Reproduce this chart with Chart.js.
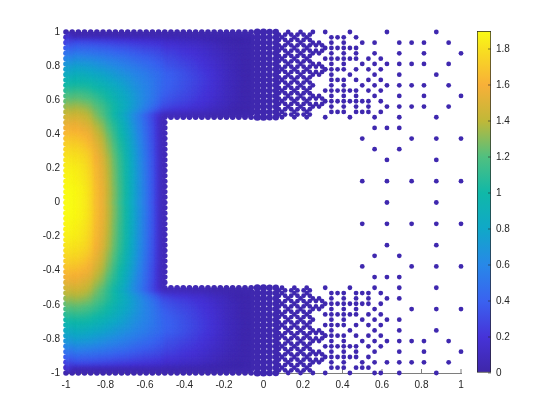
<!DOCTYPE html>
<html>
<head>
<meta charset="utf-8">
<script src="https://cdn.jsdelivr.net/npm/chart.js@4"></script>
<style>
  html, body { margin: 0; background: #fff; }
  #main { position: absolute; left: 0; top: 0; }
  #bar { position: absolute; left: 460px; top: 0; }
</style>
</head>
<body>
<canvas id="main" width="560" height="420"></canvas>
<canvas id="bar" width="100" height="420"></canvas>
<script>
// colour bar levels and colours
const barLevels = [0, 0.2, 0.4, 0.6, 0.8, 1.0, 1.2, 1.4, 1.6, 1.8, 1.9];
const barColors = ['#3e26a8', '#4633d8', '#3a62f0', '#2888e8', '#10a8c8', '#10b8a8', '#50c080', '#c0b838', '#f8b038', '#f8e020', '#f9fb15'];
const barTicks = [0, 0.2, 0.4, 0.6, 0.8, 1, 1.2, 1.4, 1.6, 1.8];
const axisTicks = [-1, -0.8, -0.6, -0.4, -0.2, 0, 0.2, 0.4, 0.6, 0.8, 1];

// values on the solid part, rows run y = 32/32 down to 0, columns x = -32/32 to -16/32
const leftCols = [-32, -31, -30, -29, -28, -27, -26, -25, -24, -23, -22, -21, -20, -19, -18, -17, -16];
const leftRows = [32, 31, 30, 29, 28, 27, 26, 25, 24, 23, 22, 21, 20, 19, 18, 17, 16, 15, 14, 13, 12, 11, 10, 9, 8, 7, 6, 5, 4, 3, 2, 1, 0];
const leftValues = [
  [.03,.03,.03,.03,.03,.03,.03,.03,.03,.03,.03,.03,.03,.03,.03,.03,.03],
  [.14,.14,.14,.14,.14,.13,.13,.13,.12,.12,.12,.11,.11,.10,.10,.10,.09],
  [.27,.27,.27,.27,.26,.25,.25,.24,.23,.22,.21,.20,.19,.18,.17,.16,.15],
  [.38,.38,.38,.37,.37,.36,.35,.34,.32,.31,.30,.28,.27,.25,.24,.23,.21],
  [.48,.48,.48,.47,.47,.45,.44,.43,.41,.39,.38,.36,.34,.32,.31,.29,.27],
  [.58,.58,.58,.57,.56,.54,.53,.51,.49,.47,.45,.42,.40,.38,.36,.33,.31],
  [.68,.68,.68,.67,.66,.64,.62,.59,.57,.54,.52,.49,.46,.43,.41,.38,.35],
  [.76,.76,.76,.75,.74,.71,.69,.66,.63,.60,.57,.54,.51,.48,.44,.41,.38],
  [.84,.84,.84,.83,.81,.79,.76,.73,.70,.66,.63,.59,.56,.53,.49,.46,.42],
  [.92,.92,.92,.91,.89,.86,.83,.79,.75,.71,.68,.63,.59,.55,.51,.47,.43],
  [1.0,1.0,.99,.98,.97,.93,.90,.85,.81,.76,.72,.66,.62,.57,.53,.48,.43],
  [1.08,1.08,1.07,1.06,1.04,.99,.96,.91,.86,.80,.75,.69,.64,.59,.53,.48,.42],
  [1.17,1.17,1.16,1.15,1.12,1.07,1.03,.97,.91,.85,.79,.72,.65,.59,.53,.47,.40],
  [1.24,1.24,1.23,1.21,1.19,1.13,1.08,1.01,.94,.87,.81,.73,.66,.59,.52,.45,.37],
  [1.32,1.32,1.31,1.29,1.26,1.19,1.14,1.06,.98,.90,.83,.74,.66,.58,.50,.42,.33],
  [1.39,1.39,1.38,1.36,1.32,1.24,1.18,1.09,1.0,.91,.82,.72,.63,.54,.44,.35,.25],
  [1.46,1.46,1.45,1.42,1.38,1.28,1.21,1.10,.99,.88,.77,.65,.54,.42,.31,.20,.08],
  [1.52,1.52,1.51,1.48,1.43,1.33,1.26,1.14,1.03,.91,.80,.66,.55,.43,.32,.20,.07],
  [1.58,1.58,1.56,1.53,1.49,1.38,1.31,1.19,1.07,.95,.83,.69,.57,.45,.33,.21,.07],
  [1.63,1.63,1.61,1.58,1.54,1.43,1.35,1.22,1.10,.97,.85,.71,.58,.46,.34,.21,.07],
  [1.68,1.68,1.66,1.63,1.58,1.47,1.39,1.26,1.13,1.0,.88,.73,.60,.47,.34,.21,.07],
  [1.72,1.72,1.70,1.67,1.62,1.51,1.42,1.29,1.16,1.03,.90,.75,.61,.48,.35,.22,.07],
  [1.76,1.76,1.74,1.71,1.66,1.54,1.46,1.32,1.19,1.05,.92,.76,.63,.49,.36,.22,.07],
  [1.79,1.79,1.77,1.74,1.69,1.57,1.48,1.34,1.21,1.07,.93,.78,.64,.50,.36,.22,.07],
  [1.82,1.82,1.80,1.77,1.72,1.59,1.51,1.37,1.23,1.09,.95,.79,.65,.51,.37,.23,.07],
  [1.84,1.84,1.82,1.79,1.73,1.61,1.52,1.38,1.24,1.10,.96,.80,.65,.51,.37,.23,.07],
  [1.86,1.86,1.84,1.81,1.75,1.63,1.54,1.39,1.25,1.11,.97,.80,.66,.52,.37,.23,.07],
  [1.87,1.87,1.85,1.82,1.76,1.64,1.55,1.40,1.26,1.11,.97,.81,.66,.52,.38,.23,.07],
  [1.88,1.88,1.86,1.83,1.77,1.64,1.55,1.41,1.26,1.12,.98,.81,.67,.52,.38,.23,.07],
  [1.89,1.89,1.87,1.84,1.78,1.65,1.56,1.42,1.27,1.13,.98,.82,.67,.52,.38,.23,.07],
  [1.90,1.90,1.88,1.85,1.79,1.66,1.57,1.42,1.28,1.13,.99,.82,.67,.53,.38,.23,.07],
  [1.90,1.90,1.88,1.85,1.79,1.66,1.57,1.42,1.28,1.13,.99,.82,.67,.53,.38,.23,.07],
  [1.90,1.90,1.88,1.85,1.79,1.66,1.57,1.42,1.28,1.13,.99,.82,.67,.53,.38,.23,.07]
];

// the arm above and below the gap, same rows y = 32/32 to 16/32, x = -15/32 to -4/32
const armCols = [-15, -14, -13, -12, -11, -10, -9, -8, -7, -6, -5, -4];
const armValues = [
  [.03,.03,.03,.03,.03,.03,.03,.03,.03,.03,.03,.03],
  [.08,.08,.07,.06,.06,.05,.05,.04,.03,.03,.03,.03],
  [.14,.13,.12,.11,.10,.09,.08,.06,.05,.04,.03,.03],
  [.19,.18,.16,.15,.14,.12,.11,.09,.07,.05,.04,.03],
  [.25,.23,.21,.19,.18,.16,.14,.11,.09,.07,.05,.04],
  [.29,.26,.24,.22,.20,.18,.16,.13,.11,.08,.06,.04],
  [.32,.30,.27,.25,.23,.20,.18,.15,.12,.09,.07,.05],
  [.35,.32,.30,.27,.25,.22,.19,.16,.13,.10,.07,.05],
  [.39,.36,.33,.30,.27,.24,.21,.18,.14,.11,.08,.05],
  [.40,.37,.34,.31,.28,.25,.22,.18,.15,.11,.08,.06],
  [.40,.37,.34,.31,.28,.25,.22,.18,.15,.11,.08,.06],
  [.39,.36,.33,.30,.27,.24,.21,.18,.14,.11,.08,.05],
  [.37,.34,.31,.29,.26,.23,.20,.17,.14,.10,.08,.05],
  [.34,.31,.29,.27,.24,.21,.19,.16,.13,.10,.07,.05],
  [.30,.28,.26,.24,.21,.19,.17,.14,.11,.09,.06,.04],
  [.23,.21,.20,.18,.16,.15,.13,.11,.09,.07,.05,.03],
  [.07,.07,.06,.06,.05,.05,.04,.03,.03,.03,.03,.03]
];

// every loose point has nearly the same low value
const lowValue = 0.03;
const armRows = [32, 31, 30, 29, 28, 27, 26, 25, 24, 23, 22, 21, 20, 19, 18, 17, 16];
const solidCols = [-3, -2];
const spotColsTight = [-1, 0];
const spotColsOpen = [1, 2];

// diagonal lattice past the spots, x and y in 64ths
const latticeOddY = [33, 35, 37, 39, 41, 43, 45, 47, 49, 51, 53, 55, 57, 59, 61, 63];
const latticeOddX = [5, 7, 9, 11, 13, 15];
const latticeEvenAY = [36, 40, 44, 48, 52, 56, 60, 64];
const latticeEvenAX = [8, 12, 16];
const latticeEvenBY = [32, 34, 38, 42, 46, 50, 54, 58, 62];
const latticeEvenBX = [6, 10, 14];
// lobes sticking out of the lattice at three heights
const lobeX = [17, 19, 17, 19, 18, 18, 20, 17, 19, 17, 19, 18, 18, 20, 17, 19, 17, 19, 18, 18, 20];
const lobeY = [57, 57, 59, 59, 56, 60, 58, 49, 49, 51, 51, 48, 52, 50, 37, 37, 39, 39, 36, 40, 38];

// loose points, y in 32nds, x in 64ths
const looseY = [32, 31, 30, 29, 28, 27, 26, 25, 24, 23, 22, 21, 20, 19, 18, 17, 16, 14, 12, 10, 8, 4, 0, -4, -8, -10, -12, -14, -16, -17, -18, -19, -20, -21, -22, -23, -24, -25, -26, -27, -28, -29, -30, -31, -32];
const looseX = [
  [20, 28, 40, 56],
  [22, 24, 26, 30],
  [22, 26, 32, 36, 44, 48, 52, 60],
  [22, 24, 26, 28, 30],
  [22, 26, 30, 36, 44, 52, 64],
  [20, 22, 24, 26, 28, 30, 34, 38],
  [22, 26, 32, 36, 40, 44, 48, 52, 60],
  [20, 22, 24, 26, 30, 34, 38],
  [22, 28, 36, 44, 56],
  [22, 24, 26, 30, 34, 38],
  [22, 26, 32, 36, 40, 44, 48, 52, 60],
  [20, 22, 24, 26, 28, 30, 34, 38],
  [22, 26, 30, 36, 44, 52, 64],
  [22, 24, 26, 28, 30, 32, 34, 38],
  [22, 26, 30, 34, 40, 44, 48, 52, 60],
  [22, 24, 26, 30, 32, 34, 38],
  [20, 28, 36, 44, 56],
  [36, 40, 44],
  [32, 48, 56, 64],
  [36, 44],
  [40, 56],
  [32, 40, 48, 56, 64],
  [40, 56],
  [32, 40, 48, 56, 64],
  [40, 56],
  [36, 44],
  [32, 48, 56, 64],
  [36, 40, 44],
  [20, 28, 36, 44, 56],
  [22, 24, 26, 30, 32, 34, 38],
  [22, 26, 30, 34, 40, 44],
  [22, 24, 26, 28, 30, 32, 34, 38],
  [22, 26, 30, 36, 48, 56, 64],
  [20, 22, 24, 26, 28, 30, 34, 38],
  [22, 26, 32, 36, 40, 44],
  [20, 22, 24, 26, 30, 34, 38],
  [22, 28, 36, 44, 56],
  [20, 22, 24, 26, 30, 34, 38],
  [22, 26, 32, 36, 40, 44, 48, 52, 60],
  [20, 22, 24, 26, 28, 30, 34, 38],
  [22, 26, 30, 36, 44, 52, 64],
  [22, 24, 26, 28, 30, 34],
  [22, 26, 32, 36, 40, 44, 48, 52, 60],
  [22, 24, 26, 30, 32, 34],
  [20, 28, 36, 38, 44, 56]
];

function colorFor(v) {
  let i = 0;
  while (i < barLevels.length - 2 && v > barLevels[i + 1]) i++;
  const t = Math.min(1, (v - barLevels[i]) / (barLevels[i + 1] - barLevels[i]));
  const c = k => {
    const a = parseInt(barColors[i].substr(k, 2), 16);
    const b = parseInt(barColors[i + 1].substr(k, 2), 16);
    return Math.round(a + (b - a) * t);
  };
  return `rgb(${c(1)},${c(3)},${c(5)})`;
}

const fill = [], edge = [], spotsTight = [], spotsOpen = [], dots = [];

// top half rows then mirrored below, the picture is symmetric there
function addCell(x32, n, v) {
  const isEdge = x32 === -32 || Math.abs(n) === 32 ||
    (x32 === -16 && Math.abs(n) <= 16) || (x32 >= -16 && Math.abs(n) === 16);
  (isEdge ? edge : fill).push({ x: x32 / 32, y: n / 32, v: v });
}

function addBoth(list, x, y) {
  list.push({ x: x, y: y, v: lowValue }, { x: x, y: -y, v: lowValue });
}

leftRows.forEach((n, r) => {
  leftCols.forEach((c, j) => {
    addCell(c, n, leftValues[r][j]);
    if (n !== 0) addCell(c, -n, leftValues[r][j]);
  });
});
armRows.forEach((n, r) => {
  armCols.forEach((c, j) => {
    addCell(c, n, armValues[r][j]);
    addCell(c, -n, armValues[r][j]);
  });
  solidCols.forEach(c => {
    addCell(c, n, lowValue);
    addCell(c, -n, lowValue);
  });
  spotColsTight.forEach(c => addBoth(spotsTight, c / 32, n / 32));
  spotColsOpen.forEach(c => addBoth(spotsOpen, c / 32, n / 32));
});

latticeOddY.forEach(y => latticeOddX.forEach(x => addBoth(dots, x / 64, y / 64)));
latticeEvenAY.forEach(y => latticeEvenAX.forEach(x => addBoth(dots, x / 64, y / 64)));
latticeEvenBY.forEach(y => latticeEvenBX.forEach(x => addBoth(dots, x / 64, y / 64)));
lobeX.forEach((x, i) => addBoth(dots, x / 64, lobeY[i] / 64));
looseY.forEach((n, i) => looseX[i].forEach(x => {
  dots.push({ x: x / 64, y: n / 32, v: lowValue });
}));

function pointSet(points, style, radius) {
  return {
    data: points,
    showLine: false,
    clip: false,
    pointStyle: style,
    pointRadius: radius,
    pointBorderWidth: 0,
    pointBackgroundColor: points.map(p => colorFor(p.v))
  };
}

// Chart.js paints the first dataset last: solid fill, then edge dots, then the soft layer
const softIndex = 3;
const softShape = [[-1, -1], [-0.0625, -1], [-0.0625, -0.5], [-0.5, -0.5], [-0.5, 0.5], [-0.0625, 0.5], [-0.0625, 1], [-1, 1]];

// soften the solid part, the reference is a smooth shading there
const softFill = {
  id: 'softFill',
  beforeDatasetDraw(chart, args) {
    if (args.index !== softIndex) return;
    const ctx = chart.ctx;
    ctx.save();
    ctx.beginPath();
    softShape.forEach((p, i) => {
      const px = chart.scales.x.getPixelForValue(p[0]);
      const py = chart.scales.y.getPixelForValue(p[1]);
      if (i === 0) ctx.moveTo(px, py); else ctx.lineTo(px, py);
    });
    ctx.closePath();
    ctx.clip();
    ctx.filter = 'blur(2.5px)';
  },
  afterDatasetDraw(chart, args) {
    if (args.index === softIndex) chart.ctx.restore();
  }
};

// the ticks in the reference point inwards
const inwardTicks = {
  id: 'inwardTicks',
  beforeDatasetsDraw(chart) {
    const ctx = chart.ctx;
    ctx.save();
    ctx.strokeStyle = '#262626';
    ctx.lineWidth = 0.6;
    ctx.beginPath();
    Object.values(chart.scales).forEach(s => {
      if (!s.options.display) return;
      s.ticks.forEach(t => {
        const p = s.getPixelForValue(t.value);
        if (s.axis === 'x') {
          ctx.moveTo(p, s.top);
          ctx.lineTo(p, s.top - 4);
        } else if (s.position === 'left') {
          ctx.moveTo(s.right, p);
          ctx.lineTo(s.right + 4, p);
        }
      });
    });
    ctx.stroke();
    ctx.restore();
  },
  afterDatasetsDraw(chart) {
    const s = chart.scales.y;
    if (s.position !== 'right') return;
    const ctx = chart.ctx;
    ctx.save();
    ctx.strokeStyle = '#262626';
    ctx.lineWidth = 0.6;
    ctx.beginPath();
    s.ticks.forEach(t => {
      const p = s.getPixelForValue(t.value);
      ctx.moveTo(s.left, p);
      ctx.lineTo(s.left - 3, p);
    });
    ctx.stroke();
    ctx.restore();
  }
};

const tickFont = { family: '"Liberation Sans", Helvetica, Arial, sans-serif', size: 10 };

new Chart(document.getElementById('main'), {
  type: 'scatter',
  data: {
    datasets: [
      pointSet(dots, 'circle', 2.4),
      pointSet(spotsOpen, 'circle', 3.2),
      pointSet(spotsTight, 'circle', 3.6),
      pointSet(fill.concat(edge), 'rect', 6.5),
      pointSet(edge, 'circle', 2.8),
      pointSet(fill, 'rect', 4.6)
    ]
  },
  options: {
    responsive: false,
    animation: false,
    events: [],
    layout: { padding: { left: 0, top: 32, right: 99, bottom: 0 } },
    plugins: { legend: { display: false }, tooltip: { enabled: false } },
    scales: {
      x: {
        min: -1, max: 1,
        afterFit: s => { s.height = 47; },
        afterBuildTicks: s => { s.ticks = axisTicks.map(v => ({ value: v })); },
        grid: { drawOnChartArea: false, drawTicks: false },
        border: { color: '#262626', width: 0.6 },
        ticks: { padding: 6, color: '#262626', font: tickFont, maxRotation: 0, autoSkip: false, callback: v => String(v) }
      },
      y: {
        min: -1, max: 1,
        afterFit: s => { s.width = 66; },
        afterBuildTicks: s => { s.ticks = axisTicks.map(v => ({ value: v })); },
        grid: { drawOnChartArea: false, drawTicks: false },
        border: { color: '#262626', width: 0.6 },
        ticks: { padding: 6, color: '#262626', font: tickFont, autoSkip: false, callback: v => String(v) }
      }
    }
  },
  plugins: [inwardTicks, softFill]
});

new Chart(document.getElementById('bar'), {
  type: 'bar',
  data: {
    labels: ['bar'],
    datasets: [{
      data: [[barLevels[0], barLevels[barLevels.length - 1]]],
      barPercentage: 1,
      categoryPercentage: 1,
      borderWidth: 1,
      borderColor: '#262626',
      borderSkipped: false,
      backgroundColor: c => {
        const a = c.chart.chartArea;
        if (!a) return barColors[0];
        const y = c.chart.scales.y;
        const g = c.chart.ctx.createLinearGradient(0, y.getPixelForValue(0), 0, y.getPixelForValue(1.9));
        barLevels.forEach((v, i) => g.addColorStop(v / 1.9, barColors[i]));
        return g;
      }
    }]
  },
  options: {
    responsive: false,
    animation: false,
    events: [],
    layout: { padding: { left: 17, top: 31, right: 0, bottom: 47 } },
    plugins: { legend: { display: false }, tooltip: { enabled: false } },
    scales: {
      x: { display: false },
      y: {
        position: 'right',
        min: 0, max: 1.9,
        afterFit: s => { s.width = 69; },
        afterBuildTicks: s => { s.ticks = barTicks.map(v => ({ value: v })); },
        grid: { drawOnChartArea: false, drawTicks: false },
        border: { display: false },
        ticks: { padding: 5, color: '#262626', font: tickFont, autoSkip: false, callback: v => String(v) }
      }
    }
  },
  plugins: [inwardTicks]
});
</script>
</body>
</html>
